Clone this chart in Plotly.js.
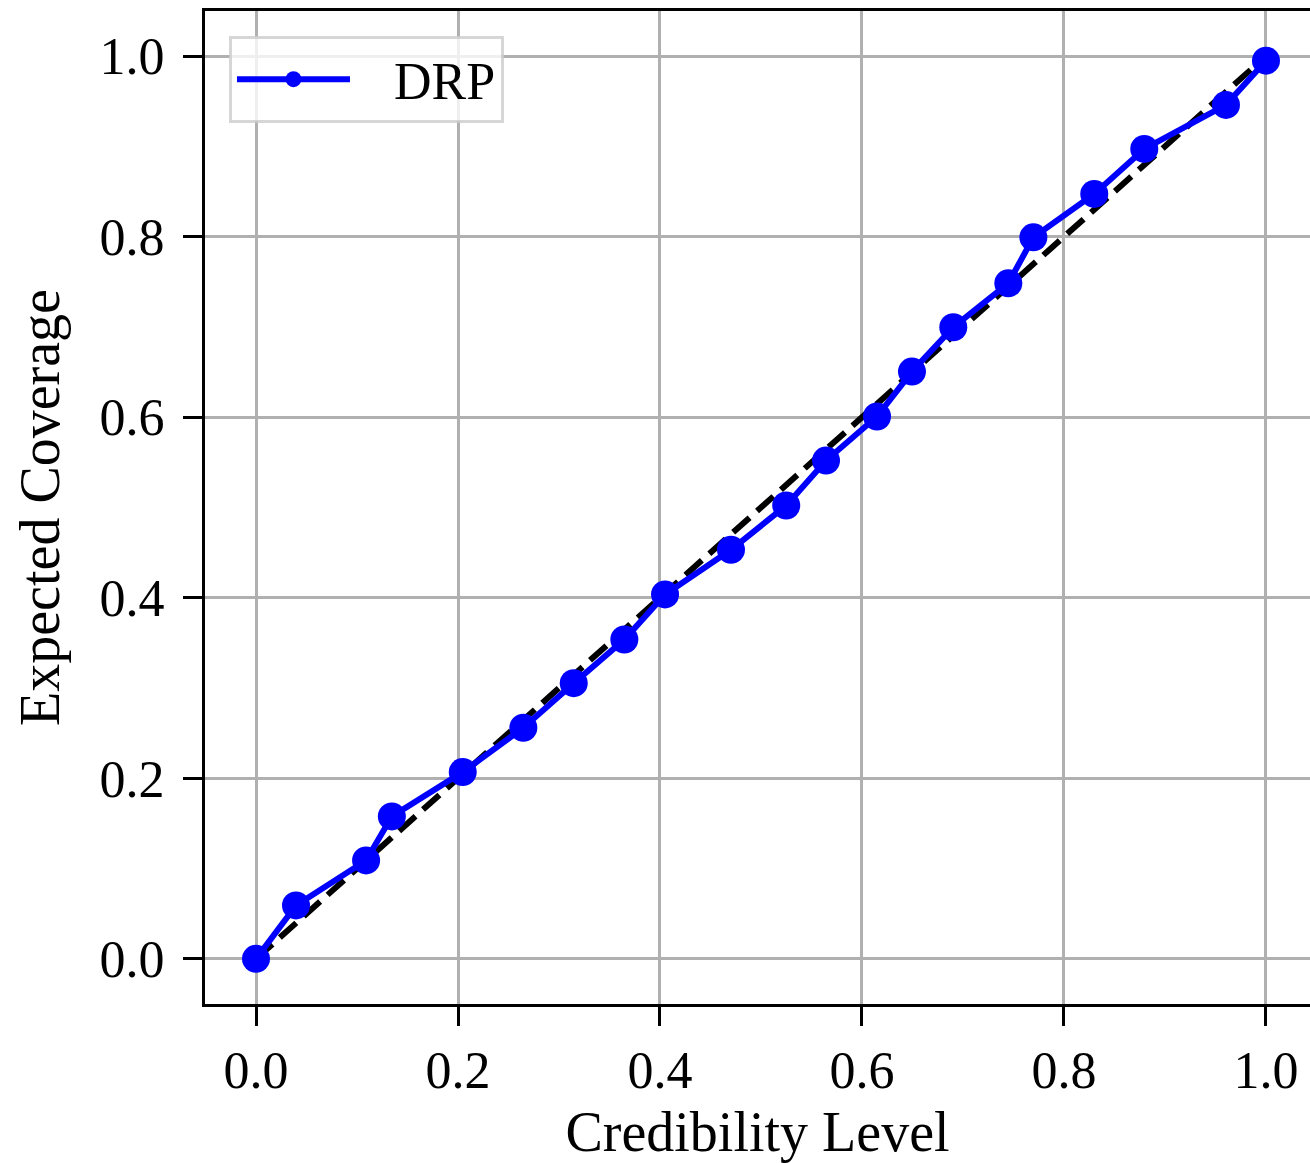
<!DOCTYPE html>
<html>
<head>
<meta charset="utf-8">
<script src="https://cdn.plot.ly/plotly-3.0.1.min.js"></script>
<style>
  html, body { margin: 0; padding: 0; background: #ffffff; overflow: hidden; }
  #chart { width: 1310px; height: 1163px; }
</style>
</head>
<body>
<div id="chart"></div>
<script>
// Data
const credibilityLevel = [0.0, 0.0396, 0.109, 0.1345, 0.2047, 0.2647, 0.3146, 0.3647, 0.405, 0.4703, 0.525, 0.5644, 0.6149, 0.6495, 0.6904, 0.7449, 0.7697, 0.830, 0.8795, 0.9604, 1.0];
const expectedCoverage = [0.0, 0.0592, 0.109, 0.1578, 0.2069, 0.256, 0.3054, 0.3538, 0.4037, 0.4532, 0.5022, 0.552, 0.6008, 0.6506, 0.6997, 0.7484, 0.7993, 0.8474, 0.8972, 0.946, 0.995];
const idealX = [0, 1];
const idealY = [0, 1];
const seriesName = "DRP";
const tickVals = [0.0, 0.2, 0.4, 0.6, 0.8, 1.0];
const tickText = ["0.0", "0.2", "0.4", "0.6", "0.8", "1.0"];

const FONT = "Liberation Serif, Times New Roman, serif";

const traces = [
  {
    x: idealX, y: idealY, type: "scatter", mode: "lines",
    line: { color: "#000000", width: 6, dash: "22px,10px" },
    showlegend: false, hoverinfo: "skip"
  },
  {
    x: credibilityLevel, y: expectedCoverage, type: "scatter", mode: "lines+markers",
    name: "\u00a0\u00a0\u00a0" + seriesName,
    line: { color: "#0000ff", width: 6 },
    marker: { color: "#0000ff", size: 28 }
  }
];

const axisCommon = {
  showgrid: true, gridcolor: "#b0b0b0", gridwidth: 3,
  zeroline: false,
  showline: true, linecolor: "#000000", linewidth: 3,
  ticks: "outside", ticklen: 19, tickwidth: 3, tickcolor: "#000000",
  tickvals: tickVals, ticktext: tickText,
  tickfont: { family: FONT, size: 52, color: "#000000" },
  automargin: false
};

const layout = {
  width: 1310, height: 1163,
  margin: { l: 205, r: 0, t: 11, b: 159, pad: 0 },
  paper_bgcolor: "#ffffff", plot_bgcolor: "#ffffff",
  font: { family: FONT, size: 52, color: "#000000" },
  xaxis: Object.assign({}, axisCommon, {
    range: [-0.0505, 1.0436],
    mirror: true,
    title: { text: "Credibility Level", font: { family: FONT, size: 56, color: "#000000" }, standoff: 20 }
  }),
  yaxis: Object.assign({}, axisCommon, {
    range: [-0.05, 1.05],
    mirror: false,
    ticklabelstandoff: 8,
    title: { text: "Expected Coverage", font: { family: FONT, size: 56, color: "#000000" }, standoff: 22 }
  }),
  showlegend: true,
  legend: {
    x: 0.0217, y: 0.975, xanchor: "left", yanchor: "top",
    bgcolor: "rgba(255,255,255,0.8)",
    bordercolor: "rgba(204,204,204,0.8)", borderwidth: 3,
    font: { family: FONT, size: 52, color: "#000000" },
    itemwidth: 113, itemsizing: "trace"
  }
};

Plotly.newPlot("chart", traces, layout, { staticPlot: true, displayModeBar: false });
</script>
</body>
</html>
